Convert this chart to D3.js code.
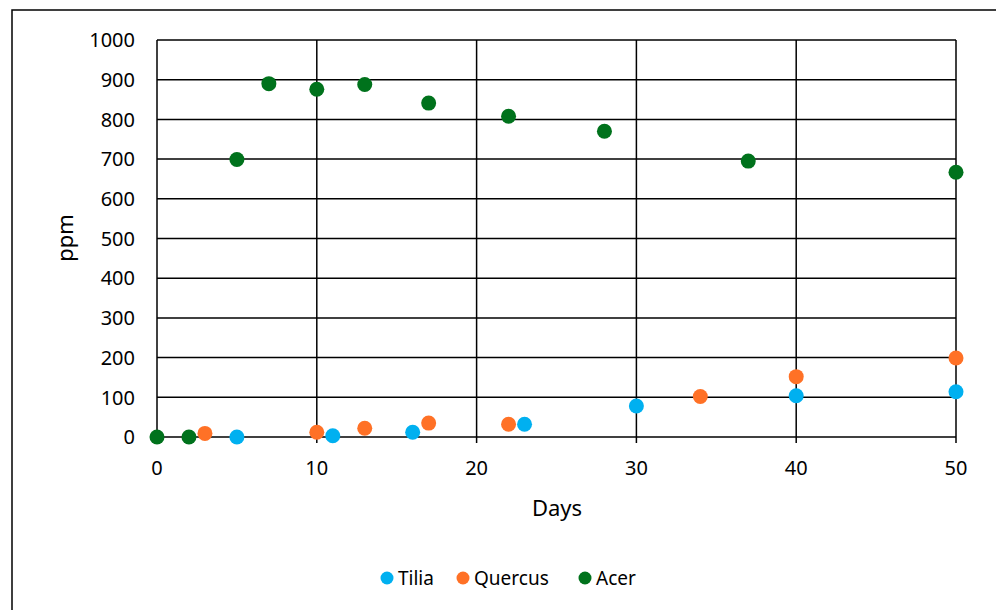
<!DOCTYPE html>
<html><head><meta charset="utf-8">
<script src="https://cdn.jsdelivr.net/npm/d3@7"></script>
<style>body{margin:0;background:#fff;}text{font-family:"Noto Sans",sans-serif;fill:#000;}</style>
</head><body>
<svg id="c" width="996" height="610"></svg>
<script>
const seriesNames = ["Tilia","Quercus","Acer"];
const seriesColors = ["#00B0F0","#FF7126","#00721C"];
const tiliaDays = [5, 11, 16, 23, 30, 40, 50];
const tiliaPpm  = [0, 3, 12, 32, 78, 104, 114];
const quercusDays = [3, 10, 13, 17, 22, 34, 40, 50];
const quercusPpm  = [9, 12, 22, 35, 32, 102, 152, 199];
const acerDays = [0, 2, 5, 7, 10, 13, 17, 22, 28, 37, 50];
const acerPpm  = [0, 0, 699, 890, 876, 888, 841, 808, 770, 695, 667];
const xTicks = [0,10,20,30,40,50];
const yTicks = [0,100,200,300,400,500,600,700,800,900,1000];

const svg = d3.select("#c");
svg.append("rect").attr("x",12).attr("y",10).attr("width",1000).attr("height",620)
  .attr("fill","#fff").attr("stroke","#000").attr("stroke-width",1.5);

const x = d3.scaleLinear().domain([0,50]).range([157,956]);
const y = d3.scaleLinear().domain([0,1000]).range([437,40]);

const g = svg.append("g");
g.selectAll(".hg").data(yTicks).join("line")
  .attr("x1",x(0)).attr("x2",x(50)).attr("y1",d=>y(d)).attr("y2",d=>y(d))
  .attr("stroke","#000").attr("stroke-width",1.5);
g.selectAll(".vg").data(xTicks).join("line")
  .attr("x1",d=>x(d)).attr("x2",d=>x(d)).attr("y1",y(1000)).attr("y2",y(0)+6)
  .attr("stroke","#000").attr("stroke-width",1.5);

g.selectAll(".yl").data(yTicks).join("text")
  .attr("x",135).attr("y",d=>y(d)).attr("dy","0.36em").attr("text-anchor","end")
  .attr("font-size",20).text(d=>d);
g.selectAll(".xl").data(xTicks).join("text")
  .attr("x",d=>x(d)).attr("y",468).attr("dy","0.36em").attr("text-anchor","middle")
  .attr("font-size",20).text(d=>d);

svg.append("text").attr("x",557).attr("y",508).attr("dy","0.36em").attr("text-anchor","middle")
  .attr("font-size",22).text("Days");
svg.append("text").attr("transform","translate(65,238) rotate(-90)").attr("dy","0.36em")
  .attr("text-anchor","middle").attr("font-size",22).text("ppm");

const data = [
  tiliaDays.map((d,i)=>({x:d,y:tiliaPpm[i]})),
  quercusDays.map((d,i)=>({x:d,y:quercusPpm[i]})),
  acerDays.map((d,i)=>({x:d,y:acerPpm[i]}))
];
data.forEach((s,si)=>{
  svg.append("g").selectAll("circle").data(s).join("circle")
    .attr("cx",d=>x(d.x)).attr("cy",d=>y(d.y)).attr("r",7.5)
    .attr("fill",seriesColors[si]);
});

const legX = [387,463,585];
seriesNames.forEach((n,i)=>{
  svg.append("circle").attr("cx",legX[i]).attr("cy",578).attr("r",6.5).attr("fill",seriesColors[i]);
  svg.append("text").attr("x",legX[i]+11).attr("y",578).attr("dy","0.36em").attr("font-size",19).text(n);
});
</script>
</body></html>
